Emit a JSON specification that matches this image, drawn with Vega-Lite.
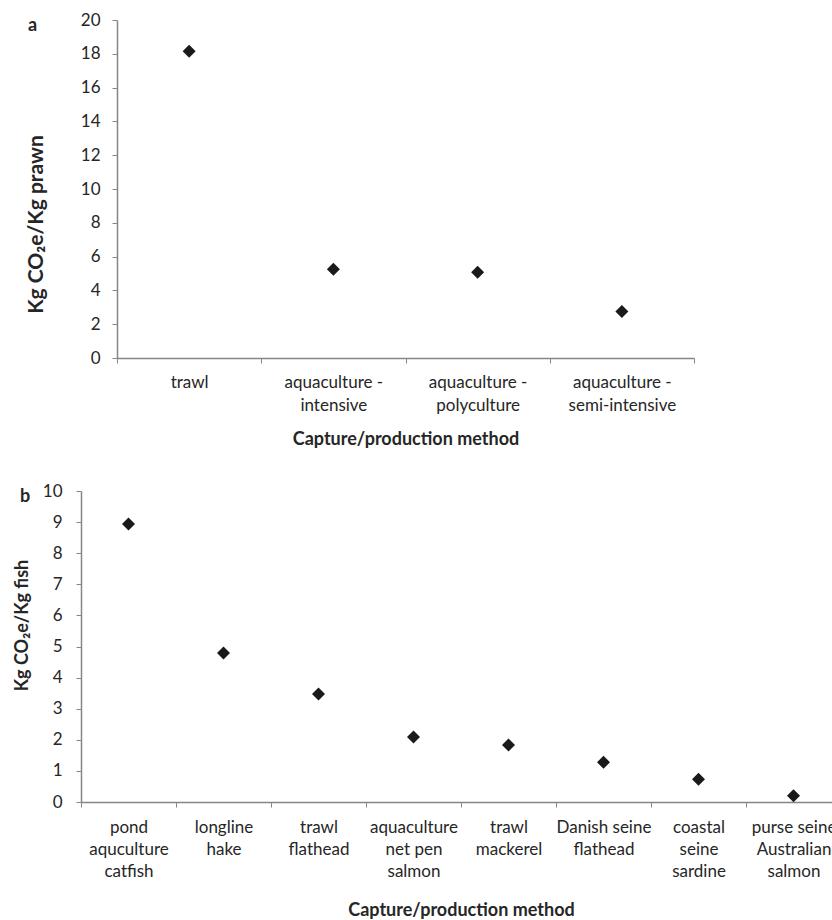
{
  "$schema": "https://vega.github.io/schema/vega-lite/v6.json",
  "background": "white",
  "padding": {"left": 13, "top": 11, "right": 0, "bottom": 0},
  "spacing": 34,
  "config": {
    "font": "Lato",
    "view": {"stroke": null},
    "axis": {
      "domainColor": "#868686",
      "domainWidth": 1.5,
      "tickColor": "#868686",
      "tickWidth": 1,
      "tickSize": 5,
      "labelColor": "#262626",
      "titleColor": "#262626",
      "labelFont": "Lato",
      "titleFont": "Lato",
      "labelFontSize": 17,
      "titleFontSize": 18,
      "titleFontWeight": "bold",
      "grid": false
    },
    "title": {"font": "Lato", "fontSize": 18, "fontWeight": "bold", "color": "#262626"}
  },
  "vconcat": [
    {
      "width": 613,
      "height": 338,
      "title": {"text": "a", "anchor": "start", "frame": "group", "dx": -53, "dy": 33, "offset": 0, "baseline": "middle"},
      "data": {"values": [
        {"method": "trawl", "value": 18.15},
        {"method": "aquaculture -\nintensive", "value": 5.25},
        {"method": "aquaculture -\npolyculture", "value": 5.08},
        {"method": "aquaculture -\nsemi-intensive", "value": 2.75}
      ]},
      "mark": {"type": "point", "shape": "diamond", "filled": true, "size": 170, "color": "#1a1a1a", "opacity": 1},
      "encoding": {
        "x": {
          "field": "method", "type": "nominal", "sort": null,
          "scale": {"type": "band", "range": [36, 613], "paddingInner": 0, "paddingOuter": 0},
          "axis": {"title": "Capture/production method", "labelAngle": 0, "labelExpr": "split(datum.label, '\\n')", "tickBand": "extent", "labelPadding": 11, "labelLineHeight": 23, "titlePadding": 17, "labelOverlap": false}
        },
        "y": {
          "field": "value", "type": "quantitative",
          "scale": {"domain": [0, 20], "nice": false},
          "axis": {"values": [0, 2, 4, 6, 8, 10, 12, 14, 16, 18, 20], "title": "Kg CO₂e/Kg prawn", "titleFontSize": 21, "offset": -36, "labelPadding": 12, "titleX": -71, "titleY": 204}
        }
      }
    },
    {
      "width": 760,
      "height": 311,
      "title": {"text": "b", "anchor": "start", "frame": "group", "dx": -61, "dy": 33, "offset": 0, "baseline": "middle"},
      "data": {"values": [
        {"method": "pond\naquculture\ncatfish", "value": 8.94},
        {"method": "longline\nhake", "value": 4.79},
        {"method": "trawl\nflathead", "value": 3.47},
        {"method": "aquaculture\nnet pen\nsalmon", "value": 2.09},
        {"method": "trawl\nmackerel", "value": 1.83},
        {"method": "Danish seine\nflathead", "value": 1.28},
        {"method": "coastal\nseine\nsardine", "value": 0.73},
        {"method": "purse seine\nAustralian\nsalmon", "value": 0.2}
      ]},
      "mark": {"type": "point", "shape": "diamond", "filled": true, "size": 170, "color": "#1a1a1a", "opacity": 1},
      "encoding": {
        "x": {
          "field": "method", "type": "nominal", "sort": null,
          "scale": {"type": "band", "paddingInner": 0, "paddingOuter": 0},
          "axis": {"title": "Capture/production method", "labelAngle": 0, "labelExpr": "split(datum.label, '\\n')", "tickBand": "extent", "labelPadding": 12, "labelLineHeight": 22, "titlePadding": 22, "labelOverlap": false}
        },
        "y": {
          "field": "value", "type": "quantitative",
          "scale": {"domain": [0, 10], "nice": false},
          "axis": {"values": [0, 1, 2, 3, 4, 5, 6, 7, 8, 9, 10], "title": "Kg CO₂e/Kg fish", "labelPadding": 14, "titleX": -50, "titleY": 134}
        }
      }
    }
  ]
}
